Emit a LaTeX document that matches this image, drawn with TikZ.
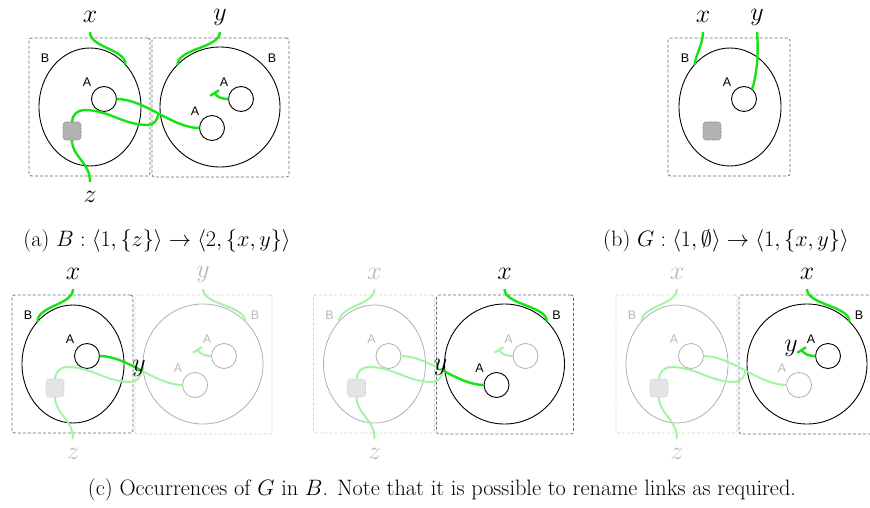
\RequirePackage{fix-cm}
\documentclass[tikz,border=0pt]{standalone}
\usepackage{fontspec}
\newfontfamily\ctrlfont{Liberation Sans}
\usetikzlibrary{arrows.meta,shapes.geometric}
\definecolor{linkgreen}{RGB}{20,228,20}
\definecolor{palelink}{RGB}{168,242,168}
\definecolor{boxdark}{RGB}{105,105,105}
\definecolor{boxpale}{RGB}{210,210,210}
\definecolor{placepale}{RGB}{175,175,175}
\definecolor{textpale}{RGB}{185,185,185}
\definecolor{sitedark}{RGB}{178,178,178}
\definecolor{sitepale}{RGB}{228,228,228}
\definecolor{siteedge}{RGB}{140,140,140}
\tikzset{
  dk box/.style={draw=boxdark, line width=0.7pt, dash pattern=on 3pt off 2pt, rounded corners=2.5pt, inner sep=0pt, outer sep=0pt},
  pl box/.style={draw=boxpale, line width=0.7pt, dash pattern=on 3pt off 2pt, rounded corners=2.5pt, inner sep=0pt, outer sep=0pt},
  dk place/.style={draw=black, line width=0.9pt, inner sep=0pt, outer sep=0pt},
  pl place/.style={draw=placepale, line width=0.8pt, inner sep=0pt, outer sep=0pt},
  dk ctrl/.style={text=black, font=\ctrlfont\fontsize{12.5}{14}\selectfont, inner sep=0pt},
  pl ctrl/.style={text=textpale, font=\ctrlfont\fontsize{12.5}{14}\selectfont, inner sep=0pt},
  dk name/.style={text=black, font=\fontsize{26}{28}\selectfont, inner sep=0pt},
  pl name/.style={text=textpale, font=\fontsize{26}{28}\selectfont, inner sep=0pt},
  dk link/.style={draw=linkgreen, line width=2.4pt},
  pl link/.style={draw=palelink, line width=2pt},
  dk site/.style={draw=siteedge, fill=sitedark, dash pattern=on 2pt off 1pt, line width=0.6pt, rounded corners=3pt, minimum size=18pt, inner sep=0pt, outer sep=0pt},
  pl site/.style={draw=boxpale, fill=sitepale, dash pattern=on 2pt off 1pt, line width=0.6pt, rounded corners=3pt, minimum size=18pt, inner sep=0pt, outer sep=0pt},
  caption/.style={font=\fontsize{22.3}{26}\selectfont, inner sep=0pt}
}
% #1 prefix, #2 left place, #3 right place, #4 A1+link, #5 A2+idle, #6 A3+link, #7 site
\newcommand\bpair[7]{%
  \node[#2 box, minimum width=121pt, minimum height=138pt] (#1bl) at (-0.5,0) {};
  \node[#3 box, minimum width=137pt, minimum height=139pt] (#1br) at (130.5,-0.5) {};
  \node[#2 place, ellipse, minimum width=102pt, minimum height=118pt] (#1el) at (0,0) {};
  \node[#3 place, circle, minimum size=120pt] (#1cr) at (130,0) {};
  \node[#2 ctrl] (#1bL) at (-45,49) {B};
  \node[#3 ctrl] (#1bR) at (182,49) {B};
  \node[#4 place, circle, minimum size=25pt] (#1a1) at (14,8) {};
  \node[#4 ctrl] (#1la1) at (-3,25) {A};
  \node[#5 place, circle, minimum size=25pt] (#1a2) at (151,8) {};
  \node[#5 ctrl] (#1la2) at (134,25) {A};
  \node[#6 place, circle, minimum size=25pt] (#1a3) at (122,-21) {};
  \node[#6 ctrl] (#1la3) at (105,-4) {A};
  \node[#7 site] (#1sq) at (-18,-24) {};
  \node[#7 name] (#1z) at (0,-90) {$z$};
  \coordinate (#1zt) at (0,-75);
  \coordinate (#1j) at (68.4,-6.5);
  \coordinate (#1id) at (124,15);
  \draw[#7 link] (#1sq.south) .. controls +(0,-17) and +(0,20) .. (#1zt);
  \draw[#7 link] (#1sq.north) to[out=90,in=180] (-6,-3) to[out=0,in=180] (58,-18) to[out=0,in=-95] (#1j);
  \draw[#4 link] (#1a1.east) .. controls +(14,0) and +(-13.65,7.25) .. (#1j);
  \draw[#6 link] (#1j) .. controls +(13.7,-7.25) and +(-13.75,0) .. (#1a3.west);
  \draw[#5 link, -{Bar[width=10.5pt]}] (#1a2.west) to[out=180,in=-58] (#1id);
}
\begin{document}
\begin{tikzpicture}[x=1pt,y=1pt]
\useasboundingbox (0,0) rectangle (870,-508);
% (a)
\begin{scope}[shift={(90,-107)}]
  \bpair{a}{dk}{dk}{dk}{dk}{dk}{dk}
  \node[dk name] (ax) at (0,90) {$x$};
  \coordinate (axt) at (0,75);
  \draw[dk link] (axt) .. controls +(0,-16) and +(0,16) .. (ael.50);
  \node[dk name] (ay) at (130,90) {$y$};
  \coordinate (ayt) at (130,75);
  \draw[dk link] (ayt) .. controls +(0,-16) and +(0,16) .. (acr.135);
\end{scope}
\node[caption] (capa) at (157,-241) {(a) $B : \langle 1, \{z\}\rangle \rightarrow \langle 2, \{x, y\}\rangle$};
% (b)
\begin{scope}[shift={(730,-107)}]
  \node[dk box, minimum width=122pt, minimum height=138pt] (gbl) at (-1,0) {};
  \node[dk place, ellipse, minimum width=102pt, minimum height=118pt] (gel) at (0,0) {};
  \node[dk ctrl] (gb) at (-45,49) {B};
  \node[dk place, circle, minimum size=25pt] (ga) at (14,8) {};
  \node[dk ctrl] (gla) at (-3,25) {A};
  \node[dk site] (gsq) at (-18,-24) {};
  \node[dk name] (gx) at (-27,90) {$x$};
  \node[dk name] (gy) at (27,90) {$y$};
  \coordinate (gxt) at (-27,75);
  \coordinate (gyt) at (27,75);
  \draw[dk link] (gxt) .. controls +(0,-12) and +(2,12) .. (gel.130);
  \draw[dk link] (gyt) .. controls +(2,-25) and +(4,12) .. (ga.50);
\end{scope}
\node[caption] (capb) at (726,-241) {(b) $G : \langle 1, \emptyset\rangle \rightarrow \langle 1, \{x, y\}\rangle$};
% (c) first occurrence
\begin{scope}[shift={(73,-364)}]
  \bpair{c}{dk}{pl}{dk}{pl}{pl}{pl}
  \node[dk name] (cx) at (0,90) {$x$};
  \coordinate (cxt) at (0,75);
  \draw[dk link] (cxt) .. controls +(0,-16) and +(0,16) .. (cel.130);
  \node[pl name] (cy) at (130,90) {$y$};
  \coordinate (cyt) at (130,75);
  \draw[pl link] (cyt) .. controls +(0,-16) and +(0,16) .. (ccr.45);
  \node[dk name] (cyj) at (66,-4) {$y$};
\end{scope}
% (c) second occurrence
\begin{scope}[shift={(374.5,-364)}]
  \bpair{d}{pl}{dk}{pl}{pl}{dk}{pl}
  \node[pl name] (dx) at (0,90) {$x$};
  \coordinate (dxt) at (0,75);
  \draw[pl link] (dxt) .. controls +(0,-16) and +(0,16) .. (del.130);
  \node[dk name] (dx2) at (130,90) {$x$};
  \coordinate (dx2t) at (130,75);
  \draw[dk link] (dx2t) .. controls +(0,-16) and +(0,16) .. (dcr.45);
  \node[dk name] (dyj) at (66,-3) {$y$};
\end{scope}
% (c) third occurrence
\begin{scope}[shift={(677,-364)}]
  \bpair{e}{pl}{dk}{pl}{dk}{pl}{pl}
  \node[pl name] (ex) at (0,90) {$x$};
  \coordinate (ext) at (0,75);
  \draw[pl link] (ext) .. controls +(0,-16) and +(0,16) .. (eel.130);
  \node[dk name] (ex2) at (130,90) {$x$};
  \coordinate (ex2t) at (130,75);
  \draw[dk link] (ex2t) .. controls +(0,-16) and +(0,16) .. (ecr.45);
  \node[dk name] (eyi) at (114,16) {$y$};
\end{scope}
\node[caption] (capc) at (442,-490) {(c) Occurrences of $G$ in $B$. Note that it is possible to rename links as required.};
\end{tikzpicture}
\end{document}
